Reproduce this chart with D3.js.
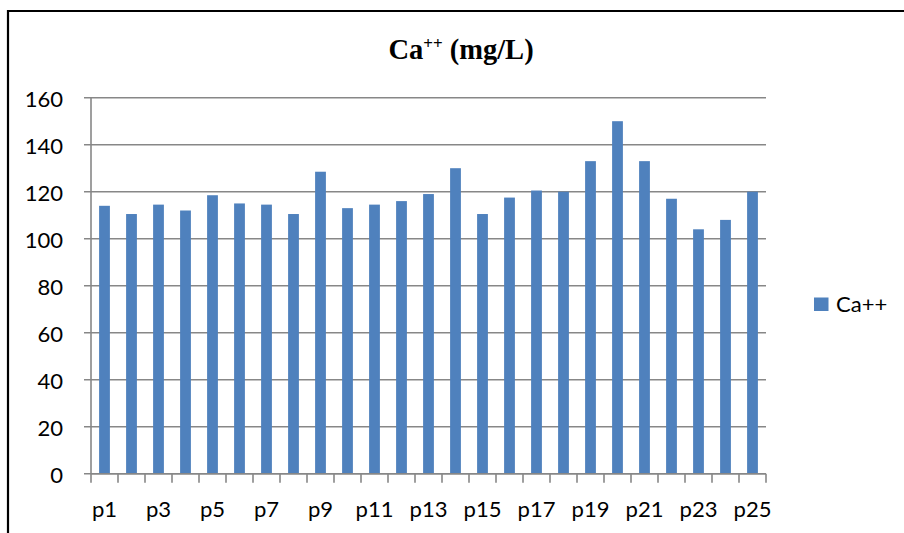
<!DOCTYPE html>
<html>
<head>
<meta charset="utf-8">
<script src="https://cdn.jsdelivr.net/npm/d3@7"></script>
<style>
  html, body { margin: 0; padding: 0; background: #fff; }
  svg { display: block; }
</style>
</head>
<body>
<svg id="chart" width="904" height="533"></svg>
<script>
// Calcium concentration per sampling point
const categories = ["p1","p2","p3","p4","p5","p6","p7","p8","p9","p10","p11","p12","p13",
                    "p14","p15","p16","p17","p18","p19","p20","p21","p22","p23","p24","p25"];
const caValues = [114, 110.5, 114.5, 112, 118.5, 115, 114.5, 110.5, 128.5, 113, 114.5, 116, 119,
                  130, 110.5, 117.5, 120.5, 120, 133, 150, 133, 117, 104, 108, 120];
const yTicks = [0, 20, 40, 60, 80, 100, 120, 140, 160];
const xTickLabels = ["p1","p3","p5","p7","p9","p11","p13","p15","p17","p19","p21","p23","p25"];
const seriesName = "Ca++";

const svg = d3.select("#chart");
const plot = { left: 91, right: 766, top: 97.7, bottom: 473.7 };
const stretch = 1.05;
const labelFont = "Lato, 'Open Sans', sans-serif";
const labelSize = 21;

// outer chart frame (open to the right and bottom)
svg.append("path")
  .attr("d", "M8,533 V11 H904")
  .attr("fill", "none")
  .attr("stroke", "#000")
  .attr("stroke-width", 2.2);

// title: Ca++ (mg/L) with superscript charges
const title = svg.append("text")
  .attr("transform", "translate(461,59)")
  .attr("text-anchor", "middle")
  .attr("font-family", "'Liberation Serif', 'Times New Roman', serif")
  .attr("font-weight", "bold")
  .attr("font-size", 28.5)
  .attr("fill", "#000");
title.append("tspan").text("Ca");
title.append("tspan").attr("font-size", 17).attr("dy", -10).text("++");
title.append("tspan").attr("dy", 10).text(" (mg/L)");

const y = d3.scaleLinear().domain([0, 160]).range([plot.bottom, plot.top]);
const xOuter = d3.scaleBand().domain(categories).range([plot.left, plot.right]);
const x = d3.scaleBand().domain(categories).range([plot.left, plot.right])
  .paddingInner(0.6).paddingOuter(0.3);

// horizontal gridlines with their left tick marks
svg.append("g").selectAll("line").data(yTicks).join("line")
  .attr("x1", plot.left - 7).attr("x2", plot.right)
  .attr("y1", d => y(d)).attr("y2", d => y(d))
  .attr("stroke", "#878787").attr("stroke-width", 1.6);

// y axis labels
const yAxis = svg.append("g")
  .attr("transform", `translate(${plot.left},0)`)
  .call(d3.axisLeft(y).tickValues(yTicks).tickSize(0).tickFormat(d3.format("d")));
yAxis.select(".domain").remove();
yAxis.selectAll("text")
  .attr("x", -28 / stretch)
  .attr("dy", "0.4em")
  .attr("transform", `scale(${stretch},1)`)
  .attr("font-family", labelFont)
  .attr("font-size", labelSize)
  .attr("fill", "#000");

// bars
svg.append("g").selectAll("rect").data(caValues).join("rect")
  .attr("x", (d, i) => x(categories[i]))
  .attr("width", x.bandwidth())
  .attr("y", d => y(d))
  .attr("height", d => y(0) - y(d))
  .attr("fill", "#4f81bd");

// vertical axis line
svg.append("line")
  .attr("x1", plot.left).attr("x2", plot.left)
  .attr("y1", plot.top).attr("y2", plot.bottom)
  .attr("stroke", "#878787").attr("stroke-width", 1.6);

// horizontal axis line and category boundary ticks
const bounds = categories.map(c => xOuter(c)).concat([plot.right]);
svg.append("line")
  .attr("x1", plot.left).attr("x2", plot.right)
  .attr("y1", plot.bottom).attr("y2", plot.bottom)
  .attr("stroke", "#878787").attr("stroke-width", 1.6);
svg.append("g").selectAll("line").data(bounds).join("line")
  .attr("x1", d => d).attr("x2", d => d)
  .attr("y1", plot.bottom).attr("y2", plot.bottom + 9)
  .attr("stroke", "#878787").attr("stroke-width", 1.6);

// category labels (every second point)
const xAxis = svg.append("g")
  .attr("transform", `translate(0,${plot.bottom})`)
  .call(d3.axisBottom(x).tickValues(xTickLabels).tickSize(0));
xAxis.select(".domain").remove();
xAxis.selectAll("text")
  .attr("y", 43)
  .attr("dy", 0)
  .attr("transform", `scale(${stretch},1)`)
  .attr("font-family", labelFont)
  .attr("font-size", labelSize)
  .attr("fill", "#000");

// legend
const legend = svg.append("g");
legend.append("rect")
  .attr("x", 814).attr("y", 297.5).attr("width", 14.5).attr("height", 13.5)
  .attr("fill", "#4f81bd");
legend.append("text")
  .attr("transform", `translate(836,311.5) scale(${stretch},1)`)
  .attr("font-family", labelFont)
  .attr("font-size", labelSize)
  .attr("fill", "#000")
  .text(seriesName);
</script>
</body>
</html>
